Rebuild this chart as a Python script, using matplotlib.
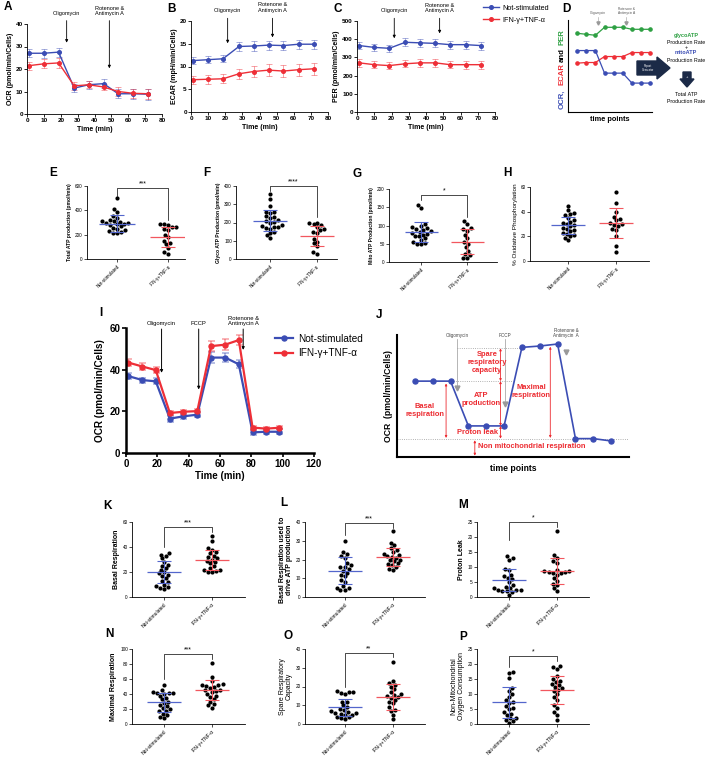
import matplotlib as mpl
mpl.use('Agg')
import matplotlib.pyplot as plt
import matplotlib.colors as mcolors
from matplotlib.patches import Polygon
from matplotlib.lines import Line2D
import pandas as pd
import seaborn as sns
import warnings
warnings.filterwarnings('ignore')

plt.rcParams['font.family'] = ['Liberation Sans', 'DejaVu Sans']
plt.rcParams['axes.linewidth'] = 0.6

#------------------------------------------------------------------------------
# data
GROUPS = ['Not-stimulated', 'IFN-γ+TNF-α']

# A-C : ATP rate assay time course
t_atp = [1.3, 10, 18.7, 28, 36.5, 45.4, 54, 62.9, 71.8]
ocr_ns = [27.0, 27.0, 27.5, 11.5, 13.0, 13.5, 9.0, 9.0, 8.8]
ocr_ns_err = [1.8, 2.0, 2.0, 1.8, 1.8, 2.0, 2.0, 2.2, 2.5]
ocr_if = [21.5, 22.3, 22.7, 12.5, 13.0, 12.0, 10.0, 9.2, 9.0]
ocr_if_err = [1.8, 2.0, 2.2, 1.8, 1.6, 1.5, 1.8, 2.0, 2.2]
ecar_ns = [11.3, 11.5, 11.7, 14.4, 14.5, 14.7, 14.6, 14.9, 14.9]
ecar_ns_err = [0.8, 0.8, 0.8, 0.9, 1.0, 1.0, 1.0, 1.0, 1.0]
ecar_if = [7.1, 7.2, 7.3, 8.4, 8.9, 9.2, 9.0, 9.3, 9.5]
ecar_if_err = [0.9, 1.0, 1.0, 1.1, 1.3, 1.3, 1.3, 1.3, 1.3]
per_ns = [365, 355, 350, 383, 380, 377, 370, 370, 365]
per_ns_err = [20, 20, 20, 22, 22, 22, 22, 22, 22]
per_if = [270, 260, 255, 265, 270, 270, 260, 260, 260]
per_if_err = [20, 18, 18, 20, 22, 22, 20, 22, 22]

# D : schematic
d_x = [1, 2, 3, 4, 5, 6, 7, 8, 9]
d_per = [25.0, 24.7, 24.4, 26.8, 26.8, 26.8, 26.2, 26.2, 26.2]
d_ecar = [16.0, 16.2, 16.2, 18.0, 18.0, 18.0, 19.2, 19.2, 19.2]
d_ocr = [19.8, 19.8, 19.8, 13.0, 13.0, 13.0, 10.0, 10.0, 10.0]

# E-H
e_ns = [500, 410, 385, 355, 340, 320, 310, 310, 305, 300, 295, 290, 285, 280, 270, 255, 250, 240, 230, 220, 215, 215]
e_if = [290, 285, 280, 265, 260, 250, 240, 200, 180, 150, 130, 120, 90, 60, 45]
e_mean = [290, 182]; e_sd = [72, 82]
f_ns = [355, 330, 290, 260, 255, 250, 235, 230, 225, 215, 210, 205, 200, 185, 180, 175, 175, 170, 165, 150, 140, 130, 115]
f_if = [200, 195, 190, 185, 175, 165, 160, 150, 145, 110, 95, 85, 70, 40, 30]
f_mean = [210, 127]; f_sd = [58, 56]
g_ns = [157, 148, 105, 100, 95, 92, 90, 88, 85, 82, 80, 78, 75, 72, 70, 65, 60, 55, 52, 50, 48]
g_if = [112, 105, 92, 90, 85, 75, 65, 55, 50, 40, 30, 22, 20, 12, 12]
g_mean = [83, 56]; g_sd = [27, 34]
h_ns = [45, 41, 39, 38, 37, 35, 33, 32, 31, 30, 29, 28, 27, 26, 25, 24, 23, 22, 21, 20, 19, 17]
h_if = [56, 47, 40, 36, 34, 33, 31, 30, 29, 28, 26, 25, 20, 12, 7]
h_mean = [29, 31]; h_sd = [7, 12.3]

# I : mito stress test
t_mst = [1.5, 10.5, 19, 28, 36.7, 45.5, 54.3, 63.3, 72, 80.8, 89.3, 97.7]
mst_ns = [36.9, 35.0, 34.4, 16.5, 17.6, 18.4, 45.8, 45.8, 42.6, 9.9, 10.2, 10.2]
mst_ns_err = [1.5, 1.2, 1.5, 1.5, 1.2, 1.2, 2.5, 2.0, 2.0, 1.2, 1.0, 1.2]
mst_if = [43.4, 41.5, 39.8, 19.2, 19.8, 20.1, 51.3, 52.0, 54.2, 12.2, 11.7, 12.1]
mst_if_err = [1.5, 1.5, 1.5, 1.0, 1.0, 1.0, 2.5, 2.5, 2.5, 1.0, 0.8, 0.8]

# J : schematic
j_x = [1, 2, 3, 4, 5, 6, 7, 8, 9, 10, 11, 12]
j_ocr = [22.7, 22.7, 22.7, 9.3, 9.3, 9.3, 32.8, 33.2, 33.8, 5.5, 5.5, 4.8]

# K-P
k_ns = [35, 34, 33, 31, 28, 26, 25, 23, 22, 20, 19, 18, 17, 15, 13, 12, 10, 9, 8, 7, 6.5]
k_if = [49, 45, 39, 38, 36, 35, 33, 32, 31, 30, 29, 28, 27, 25, 23, 22, 22, 21, 20, 20]
k_mean = [20, 30]; k_sd = [8.8, 8]
l_ns = [30, 24, 23, 22, 21, 18, 17, 16, 16, 15, 14, 13, 12, 11, 9, 8, 6, 5, 5, 4, 4]
l_if = [35, 29, 27.5, 26, 25, 24, 23, 22.5, 22, 21.5, 21, 20, 19.5, 19, 18, 17.5, 17, 16, 15, 14.5]
l_mean = [14.1, 21.4]; l_sd = [7.2, 5]
m_ns = [13.7, 13, 12.5, 9.3, 9, 7.5, 7, 6.5, 6, 5, 4, 3.5, 3, 3, 2.5, 2.5, 2.2, 2, 2, 1.8, 0.8]
m_if = [22, 14, 13, 12, 11.5, 9, 8.8, 8.7, 8.5, 8.5, 8, 8, 7.5, 6.5, 5.5, 4.5, 4, 3, 2]
m_mean = [5.7, 8.7]; m_sd = [3.6, 4.4]
n_ns = [52, 45, 43, 42, 42, 41, 40, 38, 35, 33, 30, 28, 26, 24, 22, 20, 18, 17, 14, 12, 10, 8]
n_if = [82, 63, 57, 53, 52, 52, 51, 50, 48, 46, 45, 44, 43, 40, 38, 36, 33, 30, 27, 25, 22]
n_mean = [29, 45]; n_sd = [12.5, 13.5]
o_ns = [17.5, 17, 17, 16.5, 16, 12, 11.5, 10, 9, 8, 7.5, 7, 6.5, 6, 6, 5.5, 5, 5, 4, 3.5, 3, 2.5]
o_if = [33, 23, 22, 21, 20, 18.5, 17, 16, 15.5, 15, 14.5, 14, 13, 12, 11, 9, 7.5, 7, 5, 2.5]
o_mean = [9, 14.5]; o_sd = [4.6, 6.9]
p_ns = [17.5, 17, 15.5, 12, 11, 10, 9, 8, 7.5, 7, 6, 5.5, 5, 4, 3.5, 3, 2, 2, 1.5, 1, 0.5]
p_if = [19.5, 19, 18.5, 16, 15, 14.5, 14, 13.5, 13, 12.5, 12, 11.5, 11, 10, 9, 8, 6.5, 5.5, 4, 3, 1.5]
p_mean = [7.2, 11.3]; p_sd = [5.2, 4.7]

#------------------------------------------------------------------------------
BLUE = '#3b4db4'
RED = '#ee2f37'
GREEN = '#2ea043'
BLUE_M = '#5366cc'
RED_M = '#f2575e'
NAVY = '#1b2a47'
JRED = '#ec2a30'

W, H = 708, 760
fig = plt.figure(figsize=(W/100, H/100), dpi=100)

def px_axes(l, t, r, b):
    ax = fig.add_axes([l/W, 1 - b/H, (r - l)/W, (b - t)/H])
    ax.spines['top'].set_visible(False)
    ax.spines['right'].set_visible(False)
    return ax

def ftext(x, y, s, **kw):
    fig.text(x/W, 1 - y/H, s, **kw)

def letter(x, y, s):
    ftext(x, y, s, fontsize=8.5, fontweight='bold', ha='center', va='center')

def inj_arrow(ax, x, y0, y1, lw=0.6, ms=4):
    ax.annotate('', xy=(x, y1), xytext=(x, y0), annotation_clip=False,
                arrowprops=dict(arrowstyle='-|>', color='black', lw=lw, mutation_scale=ms, shrinkA=0, shrinkB=0))

def timecourse(ax, t, ns, ns_err, ifn, ifn_err, ms, lw):
    for y, e, c in [(ns, ns_err, BLUE), (ifn, ifn_err, RED)]:
        ax.errorbar(t, y, yerr=e, color=c, ecolor=mcolors.to_rgba(c, 0.45), marker='o', ms=ms,
                    lw=lw, elinewidth=lw * 0.7, capsize=ms * 0.7, capthick=lw * 0.7)

def small_ticks(ax, fs, bold=True, width=0.6, length=2):
    ax.tick_params(labelsize=fs, width=width, length=length, pad=1)
    if bold:
        for lab in ax.get_xticklabels() + ax.get_yticklabels():
            lab.set_fontweight('bold')

#------------------------------------------------------------------------------
# A, B, C
abc = [
    (27, 24, 162, 114, ocr_ns, ocr_ns_err, ocr_if, ocr_if_err, 40, 10, 'OCR (pmol/min/Cells)', (23.5, 41.5, 31.7), (48.8, 41.5, 20.3), 43.5),
    (191, 21, 328, 112, ecar_ns, ecar_ns_err, ecar_if, ecar_if_err, 20, 5, 'ECAR (mpH/min/Cells)', (21.4, 20.6, 15.1), (47.6, 20.6, 16.4), 21.8),
    (357, 21, 495, 112, per_ns, per_ns_err, per_if, per_if_err, 500, 100, 'PER (pmol/min/Cells)', (21.6, 515, 405), (47.9, 515, 432), 544),
]
for l, t, r, b, ns, nse, ifn, ife, ytop, ystep, ylab, oli, rot, ytxt in abc:
    ax = px_axes(l, t, r, b)
    timecourse(ax, t_atp, ns, nse, ifn, ife, ms=2.6, lw=1.0)
    ax.set_xlim(0, 80)
    ax.set_ylim(0, ytop)
    ax.set_xticks(range(0, 81, 10))
    ax.set_yticks(range(0, ytop + 1, ystep))
    small_ticks(ax, 4.6)
    ax.set_xlabel('Time (min)', fontsize=5, fontweight='bold', labelpad=2)
    ax.set_ylabel(ylab, fontsize=5, fontweight='bold', labelpad=1.5)
    inj_arrow(ax, oli[0], oli[1], oli[2])
    inj_arrow(ax, rot[0], rot[1], rot[2])
    ax.text(oli[0], ytxt, 'Oligomycin', fontsize=4, ha='center', va='bottom')
    ax.text(rot[0], ytxt, 'Rotenone &\nAntimycin A', fontsize=4, ha='center', va='bottom', linespacing=1.1)
    if ytop == 500:
        handles = [Line2D([], [], color=BLUE, marker='o', ms=2.6, lw=1.0),
                   Line2D([], [], color=RED, marker='o', ms=2.6, lw=1.0)]
        ax.legend(handles, GROUPS, loc='upper left', bbox_to_anchor=(479/W, 1 - 1/H),
                  bbox_transform=fig.transFigure, frameon=False, fontsize=5.2,
                  handlelength=2.2, handletextpad=0.6, borderpad=0, labelspacing=0.7)

letter(8, 7, 'A'); letter(171, 9, 'B'); letter(338, 9, 'C')

# D schematic
ax = px_axes(568, 20, 652, 112)
for y, c in [(d_per, GREEN), (d_ecar, RED), (d_ocr, BLUE)]:
    ax.plot(d_x, y, color=c, marker='o', ms=2.3, lw=0.9)
ax.set_xlim(0, 9.2)
ax.set_ylim(1.3, 29)
ax.set_xticks([]); ax.set_yticks([])
ax.spines['left'].set_linewidth(0.8); ax.spines['bottom'].set_linewidth(0.8)
for xa, lab in [(3.3, 'Oligomycin'), (6.37, 'Rotenone &\nAntimycin A')]:
    ax.plot([xa, xa], [29.8, 28.6], color='#999999', lw=0.4, clip_on=False)
    ax.plot(xa, 28.2, marker='v', color='#999999', ms=2.3, clip_on=False)
    ax.text(xa, 30.6, lab, fontsize=2.3, ha='center', va='bottom', color='#555555', linespacing=1.0)
ax.set_xlabel('time points', fontsize=5.3, fontweight='bold', labelpad=3)
for yy, s, c in [(99, 'OCR,', BLUE), (74, 'ECAR', RED), (55, 'and', 'black'), (37, 'PER', GREEN)]:
    ftext(562, yy, s, color=c, fontsize=5.6, fontweight='bold', rotation=90, ha='center', va='center')
arrow1 = [(637, 61), (657, 61), (657, 57), (670, 68), (657, 79), (657, 75), (637, 75)]
fig.patches.append(Polygon([(x/W, 1 - y/H) for x, y in arrow1], closed=True, color=NAVY,
                           transform=fig.transFigure, figure=fig))
ftext(648, 68, 'Report\nGenerator', fontsize=2.0, color='white', ha='center', va='center', linespacing=1.0)
arrow2 = [(683, 72), (691, 72), (691, 79), (694, 79), (687, 87), (680, 79), (683, 79)]
fig.patches.append(Polygon([(x/W, 1 - y/H) for x, y in arrow2], closed=True, color=NAVY,
                           transform=fig.transFigure, figure=fig))
ftext(687, 77, '+', fontsize=3, color='white', ha='center', va='center')
RX = 686
ftext(RX, 35, 'glycoATP', fontsize=4.0, color=GREEN, fontweight='bold', ha='center', va='center')
ftext(RX, 42, 'Production Rate', fontsize=3.8, ha='center', va='center')
ftext(RX, 47.5, '+', fontsize=4.0, ha='center', va='center')
ftext(RX, 53, 'mitoATP', fontsize=4.0, color=BLUE, fontweight='bold', ha='center', va='center')
ftext(RX, 60, 'Production Rate', fontsize=3.8, ha='center', va='center')
ftext(RX, 95, 'Total ATP', fontsize=3.8, ha='center', va='center')
ftext(RX, 101.5, 'Production Rate', fontsize=3.8, ha='center', va='center')
letter(566, 9, 'D')

#------------------------------------------------------------------------------
def dotplot(ax, ns, ifn, mean, sd, ytop, ystep, xlim, ylabel, yfs, ybold, tfs, cfs, sig):
    df = pd.DataFrame({'group': [GROUPS[0]] * len(ns) + [GROUPS[1]] * len(ifn),
                       'value': ns + ifn})
    sns.swarmplot(data=df, x='group', y='value', order=GROUPS, color='black', size=3.0,
                  linewidth=0, ax=ax, zorder=2)
    for i, c in enumerate([BLUE_M, RED_M]):
        ax.hlines(mean[i], i - 0.36, i + 0.36, color=c, lw=0.9, zorder=3)
        ax.errorbar(i, mean[i], yerr=sd[i], fmt='none', ecolor=c, elinewidth=0.8,
                    capsize=5, capthick=0.8, zorder=3)
    ax.set_xlim(*xlim)
    ax.set_ylim(0, ytop)
    yt = [ystep * k for k in range(int(round(ytop / ystep)) + 1)]
    ax.set_yticks(yt)
    ax.set_yticklabels([('%g' % v) for v in yt])
    ax.set_xticks([0, 1])
    ax.set_xticklabels(GROUPS, rotation=45, ha='right', rotation_mode='anchor', fontsize=cfs)
    ax.tick_params(axis='y', labelsize=tfs, width=0.5, length=2, pad=1)
    ax.tick_params(axis='x', width=0.5, length=2, pad=1.5)
    ax.set_xlabel('')
    ax.set_ylabel(ylabel, fontsize=yfs, fontweight='bold' if ybold else 'normal', labelpad=2,
                  linespacing=1.05)
    ax.spines['left'].set_linewidth(0.6); ax.spines['bottom'].set_linewidth(0.6)
    if sig is not None:
        s, yb, yl, yr = sig
        ax.plot([0, 0, 1, 1], [yl, yb, yb, yr], color='black', lw=0.5, clip_on=False)
        ax.text(0.5, yb + ytop * 0.01, s, fontsize=5, ha='center', va='bottom')

dot_panels = [
    ((87, 186, 185, 259), e_ns, e_if, e_mean, e_sd, 600, 200, (-0.59, 1.33), 'Total ATP production (pmol/min)', 3.6, True, 3.4, 3.3, ('***', 580, 520, 320)),
    ((236, 186, 337, 259), f_ns, f_if, f_mean, f_sd, 400, 100, (-0.72, 1.43), 'Glyco ATP Production (pmol/min)', 3.6, True, 3.4, 3.3, ('****', 400, 375, 230)),
    ((389, 189, 497, 262), g_ns, g_if, g_mean, g_sd, 200, 50, (-0.70, 1.65), 'Mito ATP Production (pmol/min)', 3.6, True, 3.4, 3.3, ('*', 183, 170, 124)),
    ((530, 187, 649, 261), h_ns, h_if, h_mean, h_sd, 60, 20, (-0.80, 1.69), '% Oxidative Phosphorylation', 4.6, False, 3.4, 3.3, None),
    ((132, 522, 245, 597), k_ns, k_if, k_mean, k_sd, 60, 20, (-0.67, 1.69), 'Basal Respiration', 5, True, 3.4, 3.6, ('***', 56, 40, 52)),
    ((305, 522, 425, 597), l_ns, l_if, l_mean, l_sd, 40, 10, (-0.83, 1.67), 'Basal Respiration used to\ndrive ATP production', 5, True, 3.4, 3.6, ('***', 39.5, 33, 37)),
    ((477, 522, 589, 597), m_ns, m_if, m_mean, m_sd, 25, 5, (-0.67, 1.67), 'Proton Leak', 5, True, 3.4, 3.6, ('*', 25, 19, 23.5)),
    ((132, 649, 245, 724), n_ns, n_if, n_mean, n_sd, 100, 20, (-0.67, 1.69), 'Maximal Respiration', 5, True, 3.4, 3.6, ('***', 93, 60, 87)),
    ((305, 649, 425, 724), o_ns, o_if, o_mean, o_sd, 40, 10, (-0.83, 1.67), 'Spare Respiratory\nCapacity', 5, False, 3.4, 3.6, ('**', 38, 20, 35.5)),
    ((477, 649, 589, 724), p_ns, p_if, p_mean, p_sd, 25, 5, (-0.67, 1.67), 'Non-Mitochondrial\nOxygen Consumption', 5, False, 3.4, 3.6, ('*', 22.7, 19, 21)),
]
for box, ns, ifn, mean, sd, ytop, ystep, xlim, ylab, yfs, ybold, tfs, cfs, sig in dot_panels:
    ax = px_axes(*box)
    dotplot(ax, ns, ifn, mean, sd, ytop, ystep, xlim, ylab, yfs, ybold, tfs, cfs, sig)

letter(53, 173, 'E'); letter(207, 173, 'F'); letter(357, 174, 'G'); letter(507, 173, 'H')
letter(108, 506, 'K'); letter(284, 503, 'L'); letter(463, 505, 'M')
letter(109, 634, 'N'); letter(288, 636, 'O'); letter(463, 637, 'P')

#------------------------------------------------------------------------------
# I
ax = px_axes(126, 328, 314, 453)
timecourse(ax, t_mst, mst_ns, mst_ns_err, mst_if, mst_if_err, ms=3.6, lw=1.6)
ax.set_xlim(0, 120); ax.set_ylim(0, 60)
ax.set_xticks(range(0, 121, 20)); ax.set_yticks(range(0, 61, 20))
ax.spines['left'].set_linewidth(1.8); ax.spines['bottom'].set_linewidth(1.8)
small_ticks(ax, 7, width=1.2, length=3)
ax.set_xlabel('Time (min)', fontsize=7, fontweight='bold', labelpad=2)
ax.set_ylabel('OCR (pmol/min/Cells)', fontsize=7.2, fontweight='bold', labelpad=3)
for xa, ye, lab in [(22.7, 38.5, 'Oligomycin'), (46.4, 30.5, 'FCCP'), (74.8, 49.5, 'Rotenone &\nAntimycin A')]:
    inj_arrow(ax, xa, 59.5, ye, lw=0.7, ms=4)
    ax.text(xa, 60.8, lab, fontsize=4.2, ha='center', va='bottom', linespacing=1.15)
handles = [Line2D([], [], color=BLUE, marker='o', ms=3.6, lw=1.6),
           Line2D([], [], color=RED, marker='o', ms=3.6, lw=1.6)]
ax.legend(handles, GROUPS, loc='upper left', bbox_to_anchor=(270/W, 1 - 329/H),
          bbox_transform=fig.transFigure, frameon=False, fontsize=7.2,
          handlelength=1.8, handletextpad=0.5, borderpad=0, labelspacing=0.45)
letter(101, 313, 'I')

# J schematic
ax = px_axes(397, 335, 629, 457)
ax.plot(j_x, j_ocr, color=BLUE, marker='o', ms=3.6, lw=1.2, zorder=3)
ax.set_xlim(0, 13); ax.set_ylim(0, 36.5)
ax.set_xticks([]); ax.set_yticks([])
ax.spines['left'].set_linewidth(1.5); ax.spines['bottom'].set_linewidth(1.5)
GRAY = '#999999'
ax.plot([3.37, 7.0], [32.5, 32.5], ls=':', color=GRAY, lw=0.6)
ax.plot([3.0, 6.5], [22.7, 22.7], ls=':', color=GRAY, lw=0.6)
ax.plot([0, 13], [5.5, 5.5], ls=':', color=GRAY, lw=0.6)
ax.plot([3.37, 3.37], [35.2, 21.3], color=GRAY, lw=0.5)
ax.plot(3.37, 20.5, marker='v', color=GRAY, ms=3.5)
ax.plot([6.07, 6.07], [35.2, 16.8], color=GRAY, lw=0.5)
ax.plot(6.07, 16.0, marker='v', color=GRAY, ms=3.5)
ax.plot(9.49, 31.5, marker='v', color=GRAY, ms=3.5)
for xa, lab in [(3.37, 'Oligomycin'), (6.07, 'FCCP'), (9.49, 'Rotenone &\nAntimycin  A')]:
    ax.text(xa, 35.6, lab, fontsize=3.3, ha='center', va='bottom', color='#444444', linespacing=1.1)

def red_arrow(x, y0, y1):
    ax.annotate('', xy=(x, y1), xytext=(x, y0),
                arrowprops=dict(arrowstyle='<|-|>', color=JRED, lw=0.6, mutation_scale=3, shrinkA=0, shrinkB=0))

red_arrow(2.75, 22.0, 5.7)
red_arrow(5.8, 32.5, 22.7)
red_arrow(5.8, 22.7, 9.3)
red_arrow(5.8, 9.3, 5.5)
red_arrow(8.59, 33.0, 5.7)
red_arrow(4.36, 5.0, 0.4)
rkw = dict(color=JRED, fontsize=5.4, fontweight='bold', ha='center', va='center', linespacing=1.15)
ax.text(1.55, 14.0, 'Basal\nrespiration', **rkw)
ax.text(5.05, 28.3, 'Spare\nrespiratory\ncapacity', **rkw)
ax.text(4.73, 17.3, 'ATP\nproduction', **rkw)
ax.text(4.49, 7.4, 'Proton leak', **rkw)
ax.text(7.53, 19.5, 'Maximal\nrespiration', **rkw)
ax.text(4.55, 3.0, 'Non mitochondrial respiration', **dict(rkw, ha='left'))
ax.set_xlabel('time points', fontsize=6.2, fontweight='bold', labelpad=5)
ax.set_ylabel('OCR  (pmol/min/Cells)', fontsize=6.2, fontweight='bold', labelpad=3)
letter(379, 315, 'J')

fig.savefig('out.png', dpi=100)
